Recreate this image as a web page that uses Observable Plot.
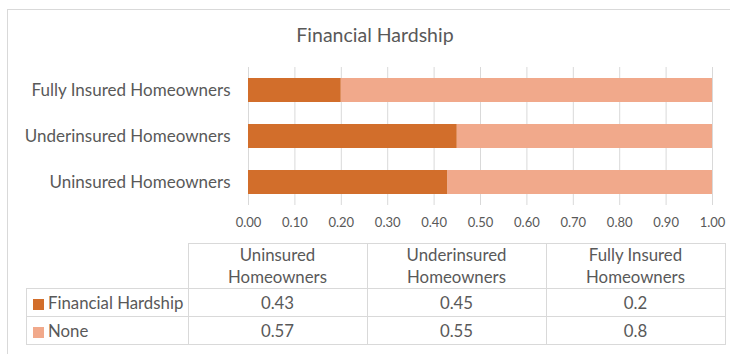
<!DOCTYPE html>
<html>
<head>
<meta charset="utf-8">
<script src="https://cdn.jsdelivr.net/npm/d3@7"></script>
<script src="https://cdn.jsdelivr.net/npm/@observablehq/plot@0.6"></script>
<style>
  html, body { margin: 0; padding: 0; background: #fff; overflow: hidden; }
  body { width: 730px; height: 354px; position: relative; font-family: Lato, "Open Sans", sans-serif; color: #595959; }
  #frame { position: absolute; left: 7px; top: 9px; width: 760px; height: 400px; border: 1px solid #D9D9D9; box-sizing: border-box; }
  #title { position: absolute; left: 0; width: 750px; top: 21px; text-align: center; font-size: 19.5px; line-height: 28px; color: #595959; }
  #chart { position: absolute; left: 0; top: 0; }
  table { position: absolute; left: 26px; top: 243px; border-collapse: collapse; font-size: 16.8px; color: #595959; }
  td { border: 1px solid #D9D9D9; padding: 0; text-align: center; }
  td.hdr { height: 43px; line-height: 22px; width: 178px; }
  td.blank { border-top: none; border-left: none; width: 161px; }
  td.lab { text-align: left; padding-left: 6px; height: 27px; }
  td.val { height: 27px; }
  .sw { display: inline-block; width: 11px; height: 11px; margin-right: 4px; vertical-align: -1px; }
</style>
</head>
<body>
<div id="frame"></div>
<div id="title">Financial Hardship</div>
<div id="chart"></div>
<table id="tbl"></table>
<script>
const categories = ["Uninsured Homeowners", "Underinsured Homeowners", "Fully Insured Homeowners"];
const tableHeaders = [["Uninsured", "Homeowners"], ["Underinsured", "Homeowners"], ["Fully Insured", "Homeowners"]];
const seriesNames = ["Financial Hardship", "None"];
const financialHardship = [0.43, 0.45, 0.2];
const none = [0.57, 0.55, 0.8];
const seriesColors = ["#D26E2B", "#F1A98B"];
const xTicks = [0, 0.1, 0.2, 0.3, 0.4, 0.5, 0.6, 0.7, 0.8, 0.9, 1.0];

const seriesValues = [financialHardship, none];
const rows = [];
seriesNames.forEach((s, si) => categories.forEach((c, ci) => rows.push({category: c, series: s, value: seriesValues[si][ci]})));

const chart = Plot.plot({
  width: 730,
  height: 240,
  marginTop: 67,
  marginBottom: 35,
  marginLeft: 248,
  marginRight: 18,
  style: {fontFamily: "Lato, 'Open Sans', sans-serif", color: "#595959", background: "transparent"},
  x: {domain: [0, 1], ticks: xTicks},
  y: {domain: categories.slice().reverse(), paddingInner: 0.47, paddingOuter: 0.235},
  color: {domain: seriesNames, range: seriesColors},
  marks: [
    Plot.gridX(xTicks, {stroke: "#D9D9D9", strokeOpacity: 1}),
    Plot.barX(rows, Plot.stackX({x: "value", y: "category", fill: "series", order: seriesNames})),
    Plot.axisX(xTicks, {tickSize: 0, tickPadding: 12, tickFormat: d3.format(".2f"), fontSize: 13, label: null}),
    Plot.axisY({tickSize: 0, tickPadding: 18, fontSize: 17, label: null})
  ]
});
document.getElementById("chart").appendChild(chart);

// data table
const tbl = document.getElementById("tbl");
let html = "<tr><td class='blank'></td>" + tableHeaders.map(h => `<td class='hdr'>${h[0]}<br>${h[1]}</td>`).join("") + "</tr>";
seriesNames.forEach((s, si) => {
  html += `<tr><td class='lab'><span class='sw' style='background:${seriesColors[si]}'></span>${s}</td>` +
    seriesValues[si].map(v => `<td class='val'>${v}</td>`).join("") + "</tr>";
});
tbl.innerHTML = html;
</script>
</body>
</html>
